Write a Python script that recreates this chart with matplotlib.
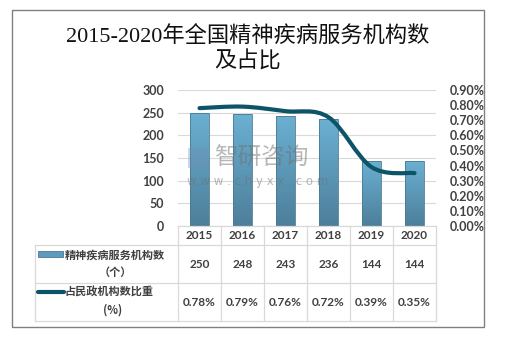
import numpy as np
import matplotlib
matplotlib.use('Agg')
import matplotlib.pyplot as plt
from matplotlib.path import Path
from matplotlib.patches import PathPatch, Rectangle
from matplotlib.lines import Line2D

plt.rcParams['font.family'] = ['Lato', 'Noto Sans CJK SC', 'DejaVu Sans']

# data
years = ['2015', '2016', '2017', '2018', '2019', '2020']
counts = [250, 248, 243, 236, 144, 144]
shares = [0.78, 0.79, 0.76, 0.72, 0.39, 0.35]
count_labels = ['250', '248', '243', '236', '144', '144']
share_labels = ['0.78%', '0.79%', '0.76%', '0.72%', '0.39%', '0.35%']
left_ticks = [0, 50, 100, 150, 200, 250, 300]
right_ticks = [0.0, 0.1, 0.2, 0.3, 0.4, 0.5, 0.6, 0.7, 0.8, 0.9]

W, H = 513, 340
fig = plt.figure(figsize=(W / 100, H / 100), dpi=100)


def fx(x):
    return x / W


def fy(y):
    return 1 - y / H


# outer frame
fig.add_artist(Rectangle((fx(12), fy(327)), fx(472), (327 - 10) / H,
                         fill=False, ec='#808080', lw=1.0))

title_font = ['Liberation Serif', 'Noto Sans CJK SC']
fig.text(fx(248), fy(37), '2015-2020年全国精神疾病服务机构数', ha='center', va='center',
         fontsize=16, family=title_font, color='#111111')
fig.text(fx(248), fy(62), '及占比', ha='center', va='center',
         fontsize=16, family=title_font, color='#111111')

# main axes
L, R, T, B = 178, 436, 90, 226
ax = fig.add_axes([fx(L), fy(B), (R - L) / W, (B - T) / H])
x = np.arange(len(years))
ax.set_xlim(-0.5, len(years) - 0.5)
ax.set_ylim(0, 300)
ax.set_yticks(left_ticks)
ax.grid(axis='y', color='#d9d9d9', lw=0.8)
ax.set_axisbelow(True)
for s in ax.spines.values():
    s.set_visible(False)
ax.tick_params(length=0, labelsize=9, colors='#404040', pad=10)
ax.set_xticks([])
for lab in ax.get_yticklabels():
    lab.set_fontweight('bold')

# gradient bars
grad = np.linspace(0, 1, 100).reshape(-1, 1)
cmap = matplotlib.colors.LinearSegmentedColormap.from_list('b', ['#4d7f9a', '#6bb0d2'])
bw = 0.42
bars = ax.bar(x, counts, width=bw, color='none', ec='#4a7a94', lw=0.6, zorder=2)
for b in bars:
    im = ax.imshow(grad, cmap=cmap, aspect='auto', origin='lower', zorder=1.9,
                   extent=[b.get_x(), b.get_x() + b.get_width(), 0, b.get_height()])
    im.set_clip_path(b)
ax.set_xlim(-0.5, len(years) - 0.5)
ax.set_ylim(0, 300)

# watermark
fig.add_artist(Rectangle((fx(188), fy(168)), 20 / W, 20 / H, fc='#6f8fb8', alpha=0.35, ec='none'))
fig.text(fx(214), fy(158), '智研咨询', fontsize=17, color='#707070', alpha=0.5,
         va='center', ha='left', family='Noto Sans CJK SC')
fig.text(fx(187), fy(182), 'w w w . c h y x x . c o m', fontsize=8.5, color='#707070', alpha=0.5,
         va='center', ha='left', family='DejaVu Sans')

# secondary axis with smoothed line
ax2 = ax.twinx()
ax2.set_ylim(0, 0.9)
ax2.set_yticks(right_ticks)
ax2.set_yticklabels(['%.2f%%' % t for t in right_ticks])
for s in ax2.spines.values():
    s.set_visible(False)
ax2.tick_params(length=0, labelsize=9, colors='#404040', pad=10)
for lab in ax2.get_yticklabels():
    lab.set_fontweight('bold')

pts = np.column_stack([x, shares]).astype(float)
verts = [pts[0]]
codes = [Path.MOVETO]
for i in range(len(pts) - 1):
    p0 = pts[i - 1] if i > 0 else pts[i]
    p1, p2 = pts[i], pts[i + 1]
    p3 = pts[i + 2] if i + 2 < len(pts) else pts[i + 1]
    c1 = p1 + (p2 - p0) / 6
    c2 = p2 - (p3 - p1) / 6
    verts += [c1, c2, p2]
    codes += [Path.CURVE4] * 3
ax2.add_patch(PathPatch(Path(verts, codes), fill=False, ec='#0e5468', lw=3,
                        capstyle='round', zorder=3))

# data table
gc = '#d9d9d9'
col_edges = [L + i * (R - L) / len(years) for i in range(len(years) + 1)]
row_edges = [226, 245, 283, 321]


def hline(y, x0, x1):
    fig.add_artist(Line2D([fx(x0), fx(x1)], [fy(y), fy(y)], color=gc, lw=0.9))


def vline(xp, y0, y1):
    fig.add_artist(Line2D([fx(xp), fx(xp)], [fy(y0), fy(y1)], color=gc, lw=0.9))


hline(226, L, R)
for y in row_edges[1:]:
    hline(y, 35, R)
vline(35, 245, 321)
for xe in col_edges:
    vline(xe, 226, 321)

tk = dict(ha='center', va='center', fontsize=8.5, color='#404040', fontweight='bold')
for i, (yr, c, s) in enumerate(zip(years, count_labels, share_labels)):
    cx = (col_edges[i] + col_edges[i + 1]) / 2
    fig.text(fx(cx), fy(235.5), yr, **tk)
    fig.text(fx(cx), fy(264), c, **tk)
    fig.text(fx(cx), fy(302), s, **tk)

# legend keys in table
fig.add_artist(Rectangle((fx(38), fy(257)), fx(25), 6 / H, fc='#5c9bbd', ec='#4a7a94', lw=0.6))
fig.add_artist(Line2D([fx(38), fx(64)], [fy(292), fy(292)], color='#0e5468', lw=3,
                      solid_capstyle='round'))
rk = dict(va='center', fontsize=8, color='#404040', fontweight='bold',
          family=['Noto Sans CJK SC', 'DejaVu Sans'])
fig.text(fx(65), fy(255), '精神疾病服务机构数', ha='left', **rk)
fig.text(fx(115), fy(272), '（个）', ha='center', **rk)
fig.text(fx(65), fy(292), '占民政机构数比重', ha='left', **rk)
fig.text(fx(113), fy(310), '(%)', ha='center', **rk)

fig.savefig('out.png', dpi=100)
